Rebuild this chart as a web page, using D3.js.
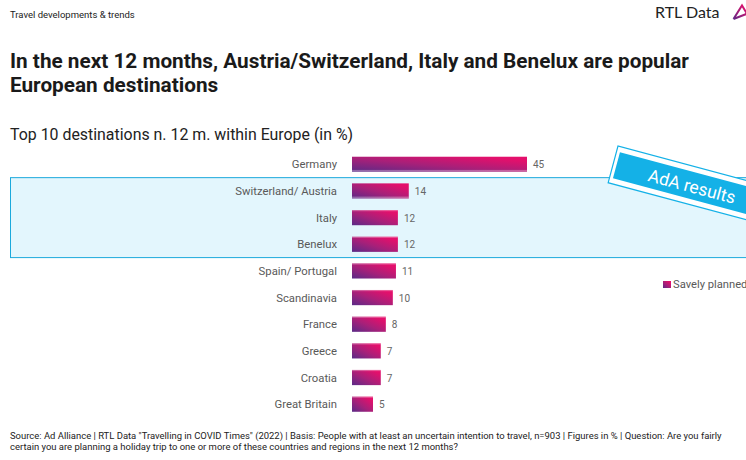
<!DOCTYPE html>
<html>
<head>
<meta charset="utf-8">
<script src="https://cdn.jsdelivr.net/npm/d3@7"></script>
<style>
  html, body { margin: 0; padding: 0; background: #fff; overflow: hidden; }
  text { font-family: Roboto, sans-serif; }
</style>
</head>
<body>
<svg id="chart" width="746" height="460"></svg>
<script>
const destinations = ["Germany", "Switzerland/ Austria", "Italy", "Benelux", "Spain/ Portugal", "Scandinavia", "France", "Greece", "Croatia", "Great Britain"];
// bar lengths, the printed labels are rounded differently in the source
const barValues = [45, 14.6, 11.8, 11.8, 11.3, 10.5, 8.7, 7.4, 7.4, 5.4];
const valueLabels = [45, 14, 12, 12, 11, 10, 8, 7, 7, 5];
const highlighted = ["Switzerland/ Austria", "Italy", "Benelux"];
const titleLines = ["In the next 12 months, Austria/Switzerland, Italy and Benelux are popular", "European destinations"];
const sourceLines = [
  'Source: Ad Alliance | RTL Data "Travelling in COVID Times" (2022) | Basis: People with at least an uncertain intention to travel, n=903 | Figures in % | Question: Are you fairly',
  "certain you are planning a holiday trip to one or more of these countries and regions in the next 12 months?"
];

const svg = d3.select("#chart");

const x = d3.scaleLinear().domain([0, 45]).range([352, 527]);
const y = d3.scaleBand().domain(destinations).range([151, 417.5]).paddingInner(0.43).paddingOuter(0.215);

// gradient for the bars
const defs = svg.append("defs");
const grad = defs.append("linearGradient").attr("id", "barGrad")
  .attr("x1", "0%").attr("y1", "100%").attr("x2", "100%").attr("y2", "0%");
grad.append("stop").attr("offset", "0%").attr("stop-color", "#5a2a87");
grad.append("stop").attr("offset", "45%").attr("stop-color", "#a82079");
grad.append("stop").attr("offset", "85%").attr("stop-color", "#e2106c");
grad.append("stop").attr("offset", "100%").attr("stop-color", "#e5106c");

// header
svg.append("text").attr("x", 10).attr("y", 18).attr("font-size", 9.5).attr("fill", "#222").text("Travel developments & trends");
svg.append("text").attr("x", 655).attr("y", 18).attr("font-size", 16).attr("fill", "#222")
  .style("font-family", "Lato, sans-serif").text("RTL Data");

// logo
const logoGrad = defs.append("linearGradient").attr("id", "logoGrad")
  .attr("gradientUnits", "userSpaceOnUse")
  .attr("x1", 733).attr("y1", 20).attr("x2", 746).attr("y2", 6);
logoGrad.append("stop").attr("offset", "0%").attr("stop-color", "#5a2a87");
logoGrad.append("stop").attr("offset", "100%").attr("stop-color", "#e5106c");
svg.append("path").attr("d", "M733.5 19 L742 5.5 L749 17 M733.5 19 L749 13").attr("fill", "none")
  .attr("stroke", "url(#logoGrad)").attr("stroke-width", 2);

// title
svg.append("g").selectAll("text").data(titleLines).join("text")
  .attr("x", 10).attr("y", (d, i) => 68 + i * 24)
  .attr("font-size", 20.75).attr("font-weight", 700).attr("fill", "#1a1a1a").text(d => d);

svg.append("text").attr("x", 10).attr("y", 139.5).attr("font-size", 15.9).attr("fill", "#222")
  .text("Top 10 destinations n. 12 m. within Europe (in %)");

// highlight band
const bandTop = y(highlighted[0]) - (y.step() - y.bandwidth()) / 2;
const bandBottom = y(highlighted[highlighted.length - 1]) + y.bandwidth() + (y.step() - y.bandwidth()) / 2;
svg.append("rect").attr("x", 10.5).attr("y", bandTop).attr("width", 745).attr("height", bandBottom - bandTop)
  .attr("fill", "#e3f6fd").attr("stroke", "#1ba9dc").attr("stroke-width", 1);

// bars
svg.append("g").selectAll("rect").data(destinations).join("rect")
  .attr("x", x(0)).attr("y", d => y(d))
  .attr("width", (d, i) => x(barValues[i]) - x(0)).attr("height", y.bandwidth())
  .attr("fill", "url(#barGrad)");

// washed out edge on the bars, at the bottom for the first two, at the top for the rest
svg.append("g").selectAll("rect").data(destinations).join("rect")
  .attr("x", x(0))
  .attr("y", (d, i) => i < 2 ? y(d) + y.bandwidth() - 2 : y(d))
  .attr("width", (d, i) => x(barValues[i]) - x(0))
  .attr("height", (d, i) => i < 2 ? 2 : 1.2)
  .attr("fill", "#fff").attr("opacity", 0.3);

// category labels
svg.append("g").selectAll("text").data(destinations).join("text")
  .attr("x", 337).attr("y", d => y(d) + y.bandwidth() / 2 + 4)
  .attr("text-anchor", "end").attr("font-size", 11.3).attr("fill", "#595959").text(d => d);

// value labels
svg.append("g").selectAll("text").data(destinations).join("text")
  .attr("x", (d, i) => x(barValues[i]) + 6).attr("y", d => y(d) + y.bandwidth() / 2 + 4)
  .attr("font-size", 10).attr("fill", "#666").text((d, i) => valueLabels[i]);

// stamp
const stamp = svg.append("g").attr("transform", "translate(618,146) rotate(15)");
stamp.append("rect").attr("x", 0).attr("y", 0).attr("width", 160).attr("height", 38)
  .attr("fill", "#fff").attr("stroke", "#14b1e7").attr("stroke-width", 1.2);
stamp.append("rect").attr("x", 3.5).attr("y", 5.5).attr("width", 153).attr("height", 27).attr("fill", "#14b1e7");
stamp.append("text").attr("x", 37).attr("y", 26).attr("font-size", 17.5).attr("fill", "#fff").text("AdA results");

// legend
svg.append("rect").attr("x", 663).attr("y", 281).attr("width", 8).attr("height", 7).attr("fill", "url(#barGrad)");
svg.append("text").attr("x", 673).attr("y", 288).attr("font-size", 11.2).attr("fill", "#595959").text("Savely planned");

// source
svg.append("g").selectAll("text").data(sourceLines).join("text")
  .attr("x", 10).attr("y", (d, i) => 439 + i * 11)
  .attr("font-size", 9.46).attr("fill", "#222").text(d => d);
</script>
</body>
</html>
